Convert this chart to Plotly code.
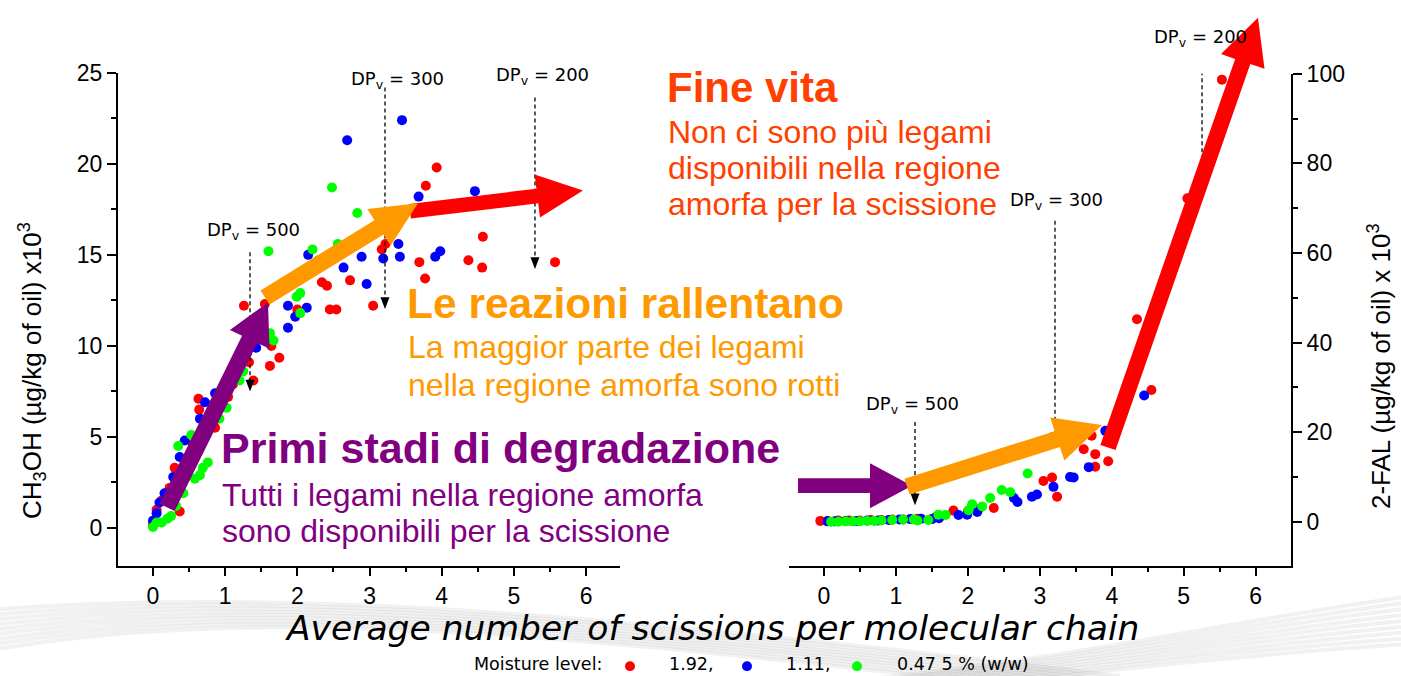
import math
import plotly.graph_objects as go

W, H = 1401, 676

# ---------------- data ----------------
moisture_labels = ["1.92,", "1.11,", "0.47 5 % (w/w)"]
series_colors = ["#FF0000", "#0000FF", "#00FF00"]

# CH3OH vs average number of scissions (left panel)
meoh_x_192 = [0.00, 0.05, 0.12, 0.23, 0.30, 0.37, 0.46, 0.55, 0.63, 0.64, 0.65, 0.86, 1.04, 1.11,
              1.26, 1.33, 1.39, 1.55, 1.62, 1.64, 1.75, 2.00, 2.34, 2.41, 2.45, 2.54, 2.73, 3.05,
              3.17, 3.22, 3.69, 3.77, 3.78, 3.93, 4.37, 4.56, 4.57, 5.57]
meoh_y_192 = [0.2, 1.0, 1.5, 2.2, 3.3, 0.9, 3.8, 4.6, 7.1, 6.5, 4.5, 5.5, 7.2, 7.9,
              12.2, 9.1, 8.1, 12.3, 8.9, 10.0, 9.35, 12.0, 13.5, 13.3, 12.0, 12.0, 13.6, 12.2,
              15.3, 15.6, 14.6, 13.7, 18.8, 19.8, 14.7, 14.3, 16.0, 14.6]

meoh_x_111 = [0.00, 0.05, 0.09, 0.16, 0.28, 0.37, 0.44, 0.51, 0.65, 0.72, 0.86, 1.10, 1.30, 1.43,
              1.87, 1.87, 1.97, 2.13, 2.15, 2.64, 2.69, 2.89, 2.96, 3.19, 3.40, 3.42, 3.45, 3.68,
              3.91, 3.98, 4.46]
meoh_y_111 = [0.4, 0.8, 1.4, 1.9, 2.8, 3.9, 4.8, 3.7, 6.0, 6.9, 7.4, 8.6, 9.6, 9.9,
              12.2, 11.0, 11.6, 12.1, 15.0, 14.3, 21.3, 14.9, 13.4, 14.8, 15.6, 14.9, 22.4, 18.2,
              14.9, 15.2, 18.5]

meoh_x_047 = [0.00, 0.05, 0.12, 0.20, 0.25, 0.32, 0.42, 0.58, 0.65, 0.69, 0.76, 0.35, 0.53, 0.74,
              0.92, 1.02, 1.20, 1.25, 1.62, 1.67, 1.60, 1.99, 2.04, 2.04, 2.21, 2.29, 2.48, 2.56,
              2.83]
meoh_y_047 = [0.05, 0.3, 0.3, 0.5, 0.65, 1.2, 1.9, 2.7, 2.9, 3.3, 3.6, 4.5, 5.1, 5.1,
              6.0, 6.6, 8.1, 8.6, 10.7, 10.3, 15.2, 12.7, 12.9, 11.8, 15.3, 14.7, 18.7, 15.6,
              17.3]

# 2-FAL vs average number of scissions (right panel)
fal_x_192 = [-0.05, 0.05, 0.20, 0.35, 0.50, 0.65, 0.80, 0.95, 1.10, 1.30, 1.55, 1.80, 2.00, 2.15,
             2.36, 3.05, 3.17, 3.24, 3.61, 3.72, 3.77, 3.77, 3.95, 4.35, 4.55, 5.05, 5.53]
fal_y_192 = [0.2, 0.2, 0.3, 0.3, 0.3, 0.4, 0.4, 0.5, 0.5, 0.7, 1.0, 2.5, 2.3, 2.8,
             3.1, 9.1, 9.9, 5.6, 16.2, 19.2, 15.1, 12.3, 13.5, 45.2, 29.4, 72.2, 98.7]

fal_x_111 = [0.05, 0.15, 0.30, 0.45, 0.60, 0.75, 0.90, 1.05, 1.20, 1.35, 1.50, 1.60, 1.87, 1.99,
             2.13, 2.64, 2.69, 2.89, 2.96, 3.19, 3.42, 3.47, 3.68, 3.91, 4.45]
fal_y_111 = [0.1, 0.1, 0.2, 0.2, 0.3, 0.3, 0.4, 0.5, 0.6, 0.7, 0.6, 0.8, 1.5, 1.6,
             2.2, 5.3, 4.4, 5.6, 6.1, 7.8, 10.0, 9.9, 12.2, 20.3, 28.2]

fal_x_047 = [0.10, 0.20, 0.30, 0.40, 0.50, 0.60, 0.70, 0.80, 0.95, 1.10, 1.25, 1.30, 1.45, 1.59,
             1.69, 2.01, 2.06, 2.20, 2.31, 2.47, 2.59, 2.83]
fal_y_047 = [0.0, 0.0, 0.1, 0.1, 0.1, 0.2, 0.2, 0.3, 0.4, 0.5, 0.5, 0.3, 0.4, 1.6,
             1.5, 2.6, 3.9, 3.4, 5.3, 7.1, 6.6, 10.8]

x_ticks = [0, 1, 2, 3, 4, 5, 6]
meoh_ticks = [0, 5, 10, 15, 20, 25]
fal_ticks = [0, 20, 40, 60, 80, 100]

# degree-of-polymerisation markers: (label, x position)
dp_left = [("500", 1.344), ("300", 3.214), ("200", 5.292)]
dp_right = [("500", 1.266), ("300", 3.211), ("200", 5.254)]

# ---------------- layout geometry ----------------
X_RANGE = [-0.485, 6.47]
X2_RANGE = [-0.485, 6.49]
Y_RANGE = [-2.1, 25]
Y2_RANGE = [-9.9, 100]
LX = (118, 620)   # pixel span of left panel
RX = (789, 1291)  # pixel span of right panel
LY = (564, 61)    # bottom/top pixel of left panel
RY = (564, 62)

PURPLE = "#800080"
ORANGE = "#FF9900"
RED = "#FF0000"
DEEP_ORANGE = "#FF4000"


def to_px(x, y, panel):
    if panel == "L":
        xr, xd, yr, yd = X_RANGE, LX, Y_RANGE, LY
    else:
        xr, xd, yr, yd = X2_RANGE, RX, Y2_RANGE, RY
    px = xd[0] + (x - xr[0]) / (xr[1] - xr[0]) * (xd[1] - xd[0])
    py = yd[0] + (y - yr[0]) / (yr[1] - yr[0]) * (yd[1] - yd[0])
    return px, py


def pp(px, py):
    return f"{px / W:.5f},{1 - py / H:.5f}"


def polygon(points):
    return "M " + " L ".join(pp(*p) for p in points) + " Z"


def block_arrow(tail, tip, panel, shaft, head_len, head_half, color):
    x0, y0 = to_px(*tail, panel)
    x1, y1 = to_px(*tip, panel)
    dx, dy = x1 - x0, y1 - y0
    d = math.hypot(dx, dy)
    ux, uy = dx / d, dy / d
    nx, ny = -uy, ux
    bx, by = x1 - ux * head_len, y1 - uy * head_len
    s, h = shaft / 2, head_half
    pts = [(x0 + nx * s, y0 + ny * s), (bx + nx * s, by + ny * s), (bx + nx * h, by + ny * h),
           (x1, y1), (bx - nx * h, by - ny * h), (bx - nx * s, by - ny * s),
           (x0 - nx * s, y0 - ny * s)]
    return dict(type="path", xref="paper", yref="paper", path=polygon(pts),
                fillcolor=color, line=dict(width=0), layer="above")


fig = go.Figure()

left_sets = [(meoh_x_192, meoh_y_192), (meoh_x_111, meoh_y_111), (meoh_x_047, meoh_y_047)]
right_sets = [(fal_x_192, fal_y_192), (fal_x_111, fal_y_111), (fal_x_047, fal_y_047)]
for (xs, ys), col, name in zip(left_sets, series_colors, moisture_labels):
    fig.add_trace(go.Scatter(x=xs, y=ys, mode="markers", name=name, xaxis="x", yaxis="y",
                             marker=dict(color=col, size=10, line=dict(width=0)), showlegend=False))
for (xs, ys), col, name in zip(right_sets, series_colors, moisture_labels):
    fig.add_trace(go.Scatter(x=xs, y=ys, mode="markers", name=name, xaxis="x2", yaxis="y2",
                             marker=dict(color=col, size=10, line=dict(width=0)), showlegend=False))

shapes = []

# decorative grey swoosh along the bottom
for i in range(9):
    p0 = (0, 608 + 5 * i)
    c1 = (260, 588 + 2 * i)
    c2 = (560, 606 + 3 * i)
    p3 = (1120, 676 + 3 * i)
    shapes.append(dict(type="path", xref="paper", yref="paper", layer="below",
                       path=f"M {pp(*p0)} C {pp(*c1)} {pp(*c2)} {pp(*p3)}",
                       line=dict(color="rgba(170,170,170,0.16)", width=4)))
for i in range(9):
    p0 = (820, 684 + 2 * i)
    c1 = (1060, 662 + 2 * i)
    c2 = (1200, 625 + 4 * i)
    p3 = (1401, 596 + 6 * i)
    shapes.append(dict(type="path", xref="paper", yref="paper", layer="below",
                       path=f"M {pp(*p0)} C {pp(*c1)} {pp(*c2)} {pp(*p3)}",
                       line=dict(color="rgba(170,170,170,0.16)", width=4)))

# dashed DP indicator lines with small arrow heads
dp_left_span = [(15.14, 7.49), (24.19, 12.02), (23.65, 14.22)]
dp_right_span = [(22.3, 3.68), (67.2, 17.3), (103.7, 76.4)]
for (lab, xv), (ya, yb) in zip(dp_left, dp_left_span):
    shapes.append(dict(type="line", xref="x", yref="y", x0=xv, x1=xv, y0=ya, y1=yb + 0.5,
                       line=dict(color="black", width=1.3, dash="4px,3px"), layer="above"))
    tx, ty = to_px(xv, yb, "L")
    shapes.append(dict(type="path", xref="paper", yref="paper", fillcolor="black",
                       line=dict(width=0), layer="above",
                       path=polygon([(tx - 4.5, ty - 12), (tx + 4.5, ty - 12), (tx, ty)])))
for (lab, xv), (ya, yb) in zip(dp_right, dp_right_span):
    shapes.append(dict(type="line", xref="x2", yref="y2", x0=xv, x1=xv, y0=ya, y1=yb + 2,
                       line=dict(color="black", width=1.3, dash="4px,3px"), layer="above"))
    tx, ty = to_px(xv, yb, "R")
    shapes.append(dict(type="path", xref="paper", yref="paper", fillcolor="black",
                       line=dict(width=0), layer="above",
                       path=polygon([(tx - 4.5, ty - 12), (tx + 4.5, ty - 12), (tx, ty)])))

# stage arrows
shapes.append(block_arrow((3.561, 17.40), (5.957, 18.53), "L", 15, 46, 22, RED))
shapes.append(block_arrow((0.194, 1.13), (1.593, 12.39), "L", 17, 42, 22, PURPLE))
shapes.append(block_arrow((1.552, 12.66), (3.671, 17.83), "L", 17, 46, 22, ORANGE))
shapes.append(block_arrow((-0.36, 8.06), (1.224, 8.06), "R", 15, 42, 23, PURPLE))
shapes.append(block_arrow((3.947, 16.59), (6.031, 112.5), "R", 16, 47, 23, RED))
shapes.append(block_arrow((1.155, 7.84), (3.864, 21.63), "R", 17, 47, 23, ORANGE))

# legend dots
legend_dot_px = [630, 747, 857]
for cx, col in zip(legend_dot_px, series_colors):
    shapes.append(dict(type="circle", xref="paper", yref="paper", fillcolor=col,
                       line=dict(width=0), layer="above",
                       x0=(cx - 5) / W, x1=(cx + 5) / W, y0=1 - 671 / H, y1=1 - 661 / H))

annotations = []


def note(text, px, py, size, color, family="Liberation Sans", xanchor="left", angle=0,
         yanchor="middle"):
    annotations.append(dict(text=text, x=px / W, y=1 - py / H, xref="paper", yref="paper",
                            xanchor=xanchor, yanchor=yanchor, showarrow=False, borderpad=0,
                            textangle=angle, font=dict(size=size, color=color, family=family)))


# stage descriptions
note("<b>Fine vita</b>", 666, 76, 42, DEEP_ORANGE)
note("Non ci sono più legami", 667, 121, 32, DEEP_ORANGE)
note("disponibili nella regione", 667, 158, 32, DEEP_ORANGE)
note("amorfa per la scissione", 667, 195, 32, DEEP_ORANGE)
note("<b>Le reazioni rallentano</b>", 406, 296, 42.5, ORANGE)
note("La maggior parte dei legami", 407, 341, 32, ORANGE)
note("nella regione amorfa sono rotti", 407, 379, 32, ORANGE)
note("<b>Primi stadi di degradazione</b>", 220, 444, 43, PURPLE)
note("Tutti i legami nella regione amorfa", 221, 491, 32, PURPLE)
note("sono disponibili per la scissione", 221, 528, 32, PURPLE)

# DP labels
dp_left_label = [(253, 222), (397, 68), (542, 64)]
dp_right_label = [(912, 400), (1056, 192), (1200, 25)]
for (lab, _), (lx, ly) in zip(dp_left + dp_right, dp_left_label + dp_right_label):
    note(f"DP<sub>v</sub> = {lab}", lx, ly, 18, "black", family="DejaVu Sans", xanchor="center")

# axis titles
note("CH<sub>3</sub>OH (µg/kg of oil) x10<sup>3</sup>", 32, 365, 26, "black",
     xanchor="center", angle=-90)
note("2-FAL (µg/kg of oil) x 10<sup>3</sup>", 1379, 360, 26, "black",
     xanchor="center", angle=-90)
note("<i>Average number of scissions per molecular chain</i>", 712, 627, 34.5, "black",
     family="DejaVu Sans", xanchor="center")

# legend text, sitting on the bottom edge of the figure
note("Moisture level:", 473, 675, 17.5, "black", family="DejaVu Sans", yanchor="bottom")
for lab, tx in zip(moisture_labels, [668, 785, 896]):
    note(lab, tx, 675, 17.5, "black", family="DejaVu Sans", yanchor="bottom")

axis_common = dict(showline=True, linecolor="black", linewidth=2, ticks="outside",
                   tickcolor="black", tickwidth=2, showgrid=False, zeroline=False,
                   tickfont=dict(family="Liberation Sans", size=23, color="black"))

fig.update_layout(
    width=W, height=H, margin=dict(l=0, r=0, t=0, b=0), autosize=False,
    paper_bgcolor="white", plot_bgcolor="white", showlegend=False,
    xaxis=dict(domain=[LX[0] / W, LX[1] / W], range=X_RANGE, anchor="y",
               tickvals=x_ticks, ticklen=8,
               minor=dict(ticks="outside", ticklen=4, dtick=0.5, tickwidth=1.5, tickcolor="black"),
               **axis_common),
    yaxis=dict(domain=[1 - LY[0] / H, 1 - LY[1] / H], range=Y_RANGE, anchor="x",
               tickvals=meoh_ticks, ticklen=9,
               minor=dict(ticks="outside", ticklen=5, dtick=2.5, tickwidth=1.5, tickcolor="black"),
               **axis_common),
    xaxis2=dict(domain=[RX[0] / W, RX[1] / W], range=X2_RANGE, anchor="y2",
                tickvals=x_ticks, ticklen=8,
                minor=dict(ticks="outside", ticklen=4, dtick=0.5, tickwidth=1.5, tickcolor="black"),
                **axis_common),
    yaxis2=dict(domain=[1 - RY[0] / H, 1 - RY[1] / H], range=Y2_RANGE, anchor="x2",
                side="right", tickvals=fal_ticks, ticklen=9,
                minor=dict(ticks="outside", ticklen=5, dtick=10, tickwidth=1.5, tickcolor="black"),
                **axis_common),
    shapes=shapes,
    annotations=annotations,
)

fig.write_html("out.html")
